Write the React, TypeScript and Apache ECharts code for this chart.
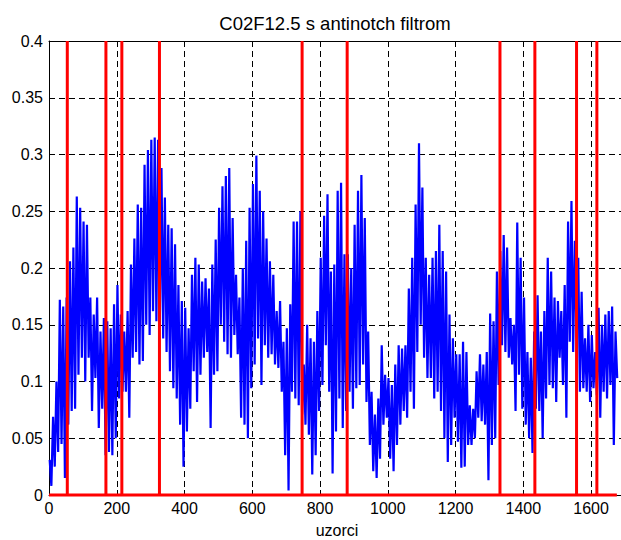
import React, { useEffect, useRef } from "react";
import * as echarts from "echarts";

// Signal envelope: one high and one low value per 10-sample bin (bins start at 0)
const binStep = 10;
const signalHigh: number[] = [
  0.031, 0.069, 0.100, 0.172, 0.166, 0.174, 0.206, 0.218, 0.263, 0.253,
  0.241, 0.238, 0.174, 0.159, 0.174, 0.144, 0.156, 0.153, 0.147, 0.168,
  0.185, 0.159, 0.144, 0.162, 0.203, 0.226, 0.256, 0.253, 0.291, 0.304,
  0.313, 0.315, 0.313, 0.288, 0.262, 0.238, 0.235, 0.221, 0.185, 0.171,
  0.165, 0.147, 0.194, 0.209, 0.203, 0.188, 0.191, 0.182, 0.203, 0.225,
  0.253, 0.272, 0.281, 0.288, 0.244, 0.194, 0.174, 0.200, 0.224, 0.253,
  0.274, 0.299, 0.268, 0.250, 0.226, 0.206, 0.194, 0.162, 0.171, 0.135,
  0.147, 0.168, 0.241, 0.241, 0.250, 0.115, 0.150, 0.138, 0.135, 0.162,
  0.209,
  0.246, 0.265, 0.197, 0.203, 0.268, 0.275, 0.212, 0.212, 0.200, 0.238,
  0.268, 0.282, 0.244, 0.144, 0.091, 0.071, 0.085, 0.132, 0.106, 0.103,
  0.097, 0.115, 0.132, 0.129, 0.132, 0.182, 0.209, 0.256, 0.310, 0.271,
  0.209, 0.194, 0.209, 0.215, 0.238, 0.215, 0.197, 0.159, 0.138, 0.124,
  0.124, 0.135,
  0.126, 0.079, 0.076, 0.109, 0.124, 0.115, 0.126, 0.160, 0.153, 0.197,
  0.215, 0.229, 0.218, 0.156, 0.150, 0.240, 0.209, 0.174, 0.126, 0.121,
  0.144, 0.176, 0.144, 0.162, 0.209, 0.197, 0.174, 0.171, 0.162, 0.185,
  0.241, 0.259, 0.224, 0.209, 0.179, 0.138, 0.150, 0.141, 0.126, 0.165,
  0.150, 0.159, 0.162, 0.166, 0.144,
];
const signalLow: number[] = [
  0.008, 0.025, 0.038, 0.045, 0.015, 0.062, 0.074, 0.076, 0.106, 0.121,
  0.100, 0.121, 0.074, 0.103, 0.059, 0.076, 0.035, 0.038, 0.035, 0.050,
  0.085, 0.091, 0.091, 0.068, 0.121, 0.126, 0.115, 0.118, 0.150, 0.141,
  0.162, 0.153, 0.150, 0.138, 0.126, 0.109, 0.094, 0.085, 0.062, 0.025,
  0.056, 0.076, 0.109, 0.082, 0.106, 0.121, 0.126, 0.059, 0.106, 0.109,
  0.150, 0.135, 0.124, 0.121, 0.141, 0.124, 0.068, 0.062, 0.050, 0.094,
  0.115, 0.138, 0.097, 0.132, 0.121, 0.124, 0.115, 0.112, 0.091, 0.035,
  0.004, 0.091, 0.085, 0.079, 0.071, 0.062, 0.053, 0.018, 0.035, 0.074,
  0.097,
  0.132, 0.091, 0.019, 0.056, 0.085, 0.059, 0.074, 0.091, 0.076, 0.094,
  0.097, 0.115, 0.082, 0.044, 0.021, 0.015, 0.032, 0.062, 0.068, 0.032,
  0.021, 0.044, 0.062, 0.074, 0.068, 0.091, 0.076, 0.126, 0.150, 0.121,
  0.103, 0.103, 0.085, 0.091, 0.074, 0.050, 0.029, 0.044, 0.068, 0.047,
  0.024, 0.025,
  0.044, 0.044, 0.050, 0.068, 0.065, 0.062, 0.013, 0.044, 0.050, 0.097,
  0.132, 0.126, 0.121, 0.115, 0.074, 0.106, 0.076, 0.062, 0.050, 0.037,
  0.076, 0.074, 0.050, 0.085, 0.097, 0.094, 0.082, 0.121, 0.097, 0.068,
  0.135, 0.126, 0.138, 0.091, 0.094, 0.091, 0.082, 0.094, 0.088, 0.068,
  0.091, 0.085, 0.097, 0.044, 0.103,
];

// Marker signal (red): sample indices of the events, their height, and the signal length
const eventSamples: number[] = [54, 168, 215, 326, 747, 880, 1331, 1434, 1557, 1617];
const eventHeight = 0.4;
const signalLength = 1676;

// Axes
const xMin = 0;
const xMax = 1700;
const xInterval = 200;
const yMin = 0;
const yMax = 0.4;
const yInterval = 0.05;

const titleText = "C02F12.5 s antinotch filtrom";
const xAxisName = "uzorci";

const FONT = "'Liberation Sans', Arial, Helvetica, sans-serif";

function buildSignal(): number[][] {
  const pts: number[][] = [];
  for (let i = 0; i < signalHigh.length; i++) {
    const b = i * binStep;
    pts.push([b + 2, signalHigh[i]]);
    pts.push([b + 7, signalLow[i]]);
  }
  return pts;
}

function buildMarkers(): number[][] {
  const pts: number[][] = [[0, 0]];
  for (const e of eventSamples) {
    pts.push([e, 0], [e, eventHeight], [e, 0]);
  }
  pts.push([signalLength, 0]);
  return pts;
}

export default function App() {
  const ref = useRef<HTMLDivElement>(null);

  useEffect(() => {
    if (!ref.current) return;
    const chart = echarts.init(ref.current, null, { renderer: "svg" });
    const option: any = {
      animation: false,
      backgroundColor: "#ffffff",
      title: {
        text: titleText,
        left: 335,
        top: 14,
        textAlign: "center",
        padding: 0,
        textStyle: { fontFamily: FONT, fontSize: 18.5, fontWeight: "normal", color: "#000" },
      },
      grid: {
        left: 49,
        top: 41,
        width: 576,
        height: 454,
        containLabel: false,
        outerBoundsMode: "none",
      },
      xAxis: [
        {
          type: "value",
          min: xMin,
          max: xMax,
          interval: xInterval,
          position: "bottom",
          name: xAxisName,
          nameLocation: "middle",
          nameGap: 27,
          nameTextStyle: { fontFamily: FONT, fontSize: 16, color: "#000" },
          axisLine: { show: true, onZero: false, lineStyle: { color: "#000", width: 1 } },
          axisTick: { show: true, inside: true, length: 5, lineStyle: { color: "#000" } },
          axisLabel: {
            show: true,
            margin: 5,
            showMaxLabel: false,
            fontFamily: FONT,
            fontSize: 16,
            color: "#000",
            formatter: (v: number) => String(v),
          },
          splitLine: { show: true, lineStyle: { color: "#000", width: 1, type: [6, 4] } },
        },
        {
          type: "value",
          min: xMin,
          max: xMax,
          interval: xInterval,
          position: "top",
          axisLine: { show: true, onZero: false, lineStyle: { color: "#000", width: 1 } },
          axisTick: { show: true, inside: true, length: 5, lineStyle: { color: "#000" } },
          axisLabel: { show: false },
          splitLine: { show: false },
        },
      ],
      yAxis: {
        type: "value",
        min: yMin,
        max: yMax,
        interval: yInterval,
        axisLine: { show: true, onZero: false, lineStyle: { color: "#000", width: 1 } },
        axisTick: { show: true, inside: true, length: 5, lineStyle: { color: "#000" } },
        axisLabel: {
          margin: 6,
          fontFamily: FONT,
          fontSize: 16,
          color: "#000",
          formatter: (v: number) => String(Number(v.toFixed(2))),
        },
        splitLine: { show: true, lineStyle: { color: "#000", width: 1, type: [6, 4] } },
      },
      series: [
        {
          type: "line",
          xAxisIndex: 0,
          data: buildSignal(),
          showSymbol: false,
          symbol: "none",
          silent: true,
          z: 3,
          lineStyle: { color: "#0000ff", width: 2.2 },
        },
        {
          type: "line",
          xAxisIndex: 0,
          data: buildMarkers(),
          showSymbol: false,
          symbol: "none",
          silent: true,
          clip: false,
          z: 4,
          lineStyle: { color: "#ff0000", width: 3, join: "bevel", cap: "butt" },
        },
      ],
    };
    chart.setOption(option);
    return () => chart.dispose();
  }, []);

  return (
    <div
      style={{
        position: "fixed",
        left: 0,
        top: 0,
        width: 621,
        height: 540,
        overflow: "hidden",
        background: "#ffffff",
      }}
    >
      <div ref={ref} style={{ width: 660, height: 540 }} />
    </div>
  );
}
